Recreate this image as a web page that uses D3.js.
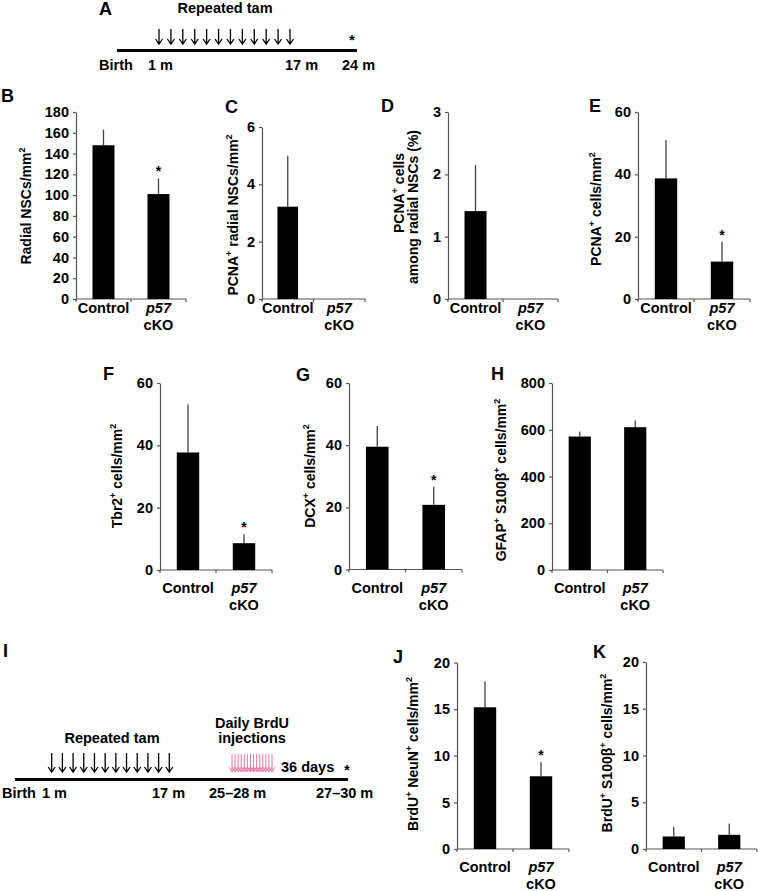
<!DOCTYPE html>
<html>
<head>
<meta charset="utf-8">
<script src="https://cdnjs.cloudflare.com/ajax/libs/d3/7.8.5/d3.min.js"></script>
<style>
  body { margin: 0; background: #fff; }
  svg { display: block; font-family: "Liberation Sans", Arial, sans-serif; font-weight: bold; }
</style>
</head>
<body>
<svg id="fig" width="758" height="891"></svg>
<script>
// categories (second one is drawn as "p57" italic over "cKO")
var groups = ["Control", "p57 cKO"];

// bar heights (mean) and upper error (SEM), Control then p57 cKO
var radialNSCs = [148, 101],   radialNSCsErr = [15, 15];
var pcnaRadial = [3.22, 0],    pcnaRadialErr = [1.78, 0];
var pcnaPercent = [1.41, 0],   pcnaPercentErr = [0.74, 0];
var pcnaCells = [38.7, 12.0],  pcnaCellsErr = [12.3, 6.4];
var tbr2Cells = [37.7, 8.6],   tbr2CellsErr = [15.5, 2.9];
var dcxCells = [39.5, 20.8],   dcxCellsErr = [6.7, 5.8];
var gfapCells = [571, 611],    gfapCellsErr = [21, 29];
var brduNeuN = [15.2, 7.8],    brduNeuNErr = [2.8, 1.5];
var brduS100 = [1.34, 1.52],   brduS100Err = [1.0, 1.2];

// significance asterisks
var starsB = [false, true], starsE = [false, true], starsF = [false, true];
var starsG = [false, true], starsJ = [false, true], none = [false, false];

// tick labels
var ticksB = [0, 20, 40, 60, 80, 100, 120, 140, 160, 180];
var ticksC = [0, 2, 4, 6];
var ticksD = [0, 1, 2, 3];
var ticks60 = [0, 20, 40, 60];
var ticksH = [0, 200, 400, 600, 800];
var ticks20 = [0, 5, 10, 15, 20];

// timeline labels
var timelineA = ["Birth", "1 m", "17 m", "24 m"];
var timelineI = ["Birth", "1 m", "17 m", "25\u201328 m", "27\u201330 m"];
var tamDoses = d3.range(12);
var brduDoses = d3.range(14);

var svg = d3.select("#fig");
var axisColor = "#555";

function sup(t) { return { t: t, sup: true }; }

// write segments (with superscripts) into a text element
function segText(text, segs) {
  segs.forEach(function(s, i) {
    var prevSup = i > 0 && segs[i - 1].sup;
    var ts = text.append("tspan").text(s.t);
    if (s.sup) ts.attr("font-size", 9).attr("dy", -6);
    else if (prevSup) ts.attr("dy", 6);
  });
}

var panels = [
  { letter: "B", lx: 1, ly: 102, x0: 76, x1: 186, yb: 299, yt: 112, max: 180, ticks: ticksB,
    v: radialNSCs, e: radialNSCsErr, s: starsB, catDy: 14,
    title: [[{ t: "Radial NSCs/mm" }, sup("2")]], tx: [31], ty: [206] },
  { letter: "C", lx: 225, ly: 113, x0: 262, x1: 365, yb: 299, yt: 127, max: 6, ticks: ticksC,
    v: pcnaRadial, e: pcnaRadialErr, s: none, catDy: 14,
    title: [[{ t: "PCNA" }, sup("+"), { t: " radial NSCs/mm" }, sup("2")]], tx: [238], ty: [215] },
  { letter: "D", lx: 381, ly: 112, x0: 448, x1: 558, yb: 299, yt: 112, max: 3, ticks: ticksD,
    v: pcnaPercent, e: pcnaPercentErr, s: none, catDy: 14,
    title: [[{ t: "PCNA" }, sup("+"), { t: " cells" }], [{ t: "among radial NSCs (%)" }]],
    tx: [404, 418], ty: [193, 207] },
  { letter: "E", lx: 589, ly: 112, x0: 638, x1: 750, yb: 299, yt: 112, max: 60, ticks: ticks60,
    v: pcnaCells, e: pcnaCellsErr, s: starsE, catDy: 14,
    title: [[{ t: "PCNA" }, sup("+"), { t: " cells/mm" }, sup("2")]], tx: [601], ty: [209] },
  { letter: "F", lx: 103, ly: 380, x0: 160, x1: 272, yb: 570, yt: 383, max: 60, ticks: ticks60,
    v: tbr2Cells, e: tbr2CellsErr, s: starsF, catDy: 23,
    title: [[{ t: "Tbr2" }, sup("+"), { t: " cells/mm" }, sup("2")]], tx: [122], ty: [476] },
  { letter: "G", lx: 296, ly: 381, x0: 349, x1: 462, yb: 569.5, yt: 383, max: 60, ticks: ticks60,
    v: dcxCells, e: dcxCellsErr, s: starsG, catDy: 23,
    title: [[{ t: "DCX" }, sup("+"), { t: " cells/mm" }, sup("2")]], tx: [315], ty: [476] },
  { letter: "H", lx: 491, ly: 380, x0: 552, x1: 663, yb: 570, yt: 383, max: 800, ticks: ticksH,
    v: gfapCells, e: gfapCellsErr, s: none, catDy: 23,
    title: [[{ t: "GFAP" }, sup("+"), { t: " S100\u03b2" }, sup("+"), { t: " cells/mm" }, sup("2")]], tx: [506], ty: [480] },
  { letter: "J", lx: 393, ly: 663, x0: 457, x1: 569, yb: 849, yt: 662.5, max: 20, ticks: ticks20,
    v: brduNeuN, e: brduNeuNErr, s: starsJ, catDy: 23,
    title: [[{ t: "BrdU" }, sup("+"), { t: " NeuN" }, sup("+"), { t: " cells/mm" }, sup("2")]], tx: [418], ty: [754] },
  { letter: "K", lx: 593, ly: 658, x0: 646, x1: 757, yb: 849, yt: 662, max: 20, ticks: ticks20,
    v: brduS100, e: brduS100Err, s: none, catDy: 23,
    title: [[{ t: "BrdU" }, sup("+"), { t: " S100\u03b2" }, sup("+"), { t: " cells/mm" }, sup("2")]], tx: [612], ty: [753] }
];

panels.forEach(function(p) {
  var g = svg.append("g");
  var y = d3.scaleLinear().domain([0, p.max]).range([p.yb, p.yt]);
  var x = d3.scaleBand().domain(groups).range([p.x0, p.x1]).padding(0);
  var bw = x.bandwidth() * 0.4;

  // panel letter
  g.append("text").attr("x", p.lx).attr("y", p.ly).attr("font-size", 18).text(p.letter);

  // y axis
  var ax = g.append("g").attr("transform", "translate(" + p.x0 + ",0)")
    .call(d3.axisLeft(y).tickValues(p.ticks).tickFormat(d3.format("d"))
      .tickSize(3).tickSizeOuter(0).tickPadding(4));
  ax.attr("font-size", 14.5).attr("font-family", null);
  ax.select(".domain").attr("stroke", axisColor).attr("stroke-width", 1.2);
  ax.selectAll(".tick line").attr("stroke", axisColor).attr("stroke-width", 1.2);
  ax.selectAll(".tick text").attr("fill", "#000");

  // x axis line with category dividers
  g.append("line").attr("x1", p.x0).attr("x2", p.x1).attr("y1", p.yb).attr("y2", p.yb)
    .attr("stroke", axisColor).attr("stroke-width", 1.2);
  var divs = groups.map(function(c) { return x(c); }).concat([p.x1]);
  g.selectAll(".xt").data(divs).enter().append("line")
    .attr("x1", function(d) { return d; }).attr("x2", function(d) { return d; })
    .attr("y1", p.yb).attr("y2", p.yb + 3)
    .attr("stroke", axisColor).attr("stroke-width", 1.2);

  var rows = groups.map(function(c, i) { return { c: c, v: p.v[i], e: p.e[i], s: p.s[i] }; });

  // error bars (upper only)
  g.selectAll(".err").data(rows.filter(function(d) { return d.e > 0; })).enter().append("line")
    .attr("x1", function(d) { return x(d.c) + x.bandwidth() / 2; })
    .attr("x2", function(d) { return x(d.c) + x.bandwidth() / 2; })
    .attr("y1", function(d) { return y(d.v); })
    .attr("y2", function(d) { return y(d.v + d.e); })
    .attr("stroke", "#444").attr("stroke-width", 1.3);

  // bars
  g.selectAll(".bar").data(rows).enter().append("rect")
    .attr("x", function(d) { return x(d.c) + (x.bandwidth() - bw) / 2; })
    .attr("width", bw)
    .attr("y", function(d) { return y(d.v); })
    .attr("height", function(d) { return p.yb - y(d.v); })
    .attr("fill", "#000");

  // asterisks
  g.selectAll(".star").data(rows.filter(function(d) { return d.s; })).enter().append("text")
    .attr("x", function(d) { return x(d.c) + x.bandwidth() / 2; })
    .attr("y", function(d) { return y(d.v + d.e) - 2; })
    .attr("text-anchor", "middle").attr("font-size", 14).text("*");

  // category labels
  var cx0 = x(groups[0]) + x.bandwidth() / 2, cx1 = x(groups[1]) + x.bandwidth() / 2;
  g.append("text").attr("x", cx0).attr("y", p.yb + p.catDy).attr("text-anchor", "middle")
    .attr("font-size", 14.5).text(groups[0]);
  var parts = groups[1].split(" ");
  g.append("text").attr("x", cx1).attr("y", p.yb + p.catDy).attr("text-anchor", "middle")
    .attr("font-size", 14.5).attr("font-style", "italic").text(parts[0]);
  g.append("text").attr("x", cx1).attr("y", p.yb + p.catDy + 17).attr("text-anchor", "middle")
    .attr("font-size", 14.5).text(parts[1]);

  // y axis title (rotated)
  p.title.forEach(function(line, i) {
    var t = g.append("text").attr("text-anchor", "middle").attr("font-size", 14)
      .attr("transform", "translate(" + p.tx[i] + "," + p.ty[i] + ") rotate(-90)");
    segText(t, line);
  });
});

// ---- timelines ----
function arrows(sel, xs, top, bot, color, sw, hw) {
  sel.selectAll(null).data(xs).enter().append("path")
    .attr("d", function(d) {
      return "M" + d + "," + top + "V" + bot + "M" + (d - hw) + "," + (bot - 5) + "L" + d + "," + bot + "L" + (d + hw) + "," + (bot - 5);
    })
    .attr("fill", "none").attr("stroke", color).attr("stroke-width", sw);
}

// panel A
var gA = svg.append("g");
gA.append("text").attr("x", 99).attr("y", 15).attr("font-size", 18).text("A");
gA.append("text").attr("x", 225).attr("y", 13).attr("text-anchor", "middle").attr("font-size", 14.5).text("Repeated tam");
var xA = d3.scaleLinear().domain([0, tamDoses.length - 1]).range([159, 290]);
arrows(gA, tamDoses.map(xA), 29, 44, "#000", 1.3, 3.5);
gA.append("line").attr("x1", 117).attr("x2", 357).attr("y1", 50.5).attr("y2", 50.5).attr("stroke", "#000").attr("stroke-width", 3);
gA.append("text").attr("x", 352).attr("y", 45).attr("text-anchor", "middle").attr("font-size", 14).text("*");
var posA = [99, 148, 285, 342];
timelineA.forEach(function(t, i) {
  gA.append("text").attr("x", posA[i]).attr("y", 70).attr("font-size", 14.5).text(t);
});

// panel I
var gI = svg.append("g");
gI.append("text").attr("x", 3).attr("y", 657).attr("font-size", 18).text("I");
gI.append("text").attr("x", 112).attr("y", 743).attr("text-anchor", "middle").attr("font-size", 14.5).text("Repeated tam");
gI.append("text").attr("x", 252).attr("y", 728).attr("text-anchor", "middle").attr("font-size", 14.5).text("Daily BrdU");
gI.append("text").attr("x", 252).attr("y", 743).attr("text-anchor", "middle").attr("font-size", 14.5).text("injections");
var xI = d3.scaleLinear().domain([0, tamDoses.length - 1]).range([51.7, 169.3]);
arrows(gI, tamDoses.map(xI), 753, 772, "#000", 1.3, 3.5);
var xB = d3.scaleLinear().domain([0, brduDoses.length - 1]).range([232, 272]);
arrows(gI, brduDoses.map(xB), 754, 772, "#e8789f", 1, 3);
gI.append("line").attr("x1", 15).attr("x2", 348).attr("y1", 779.5).attr("y2", 779.5).attr("stroke", "#000").attr("stroke-width", 3);
gI.append("text").attr("x", 281).attr("y", 772).attr("font-size", 14.5).text("36 days");
gI.append("text").attr("x", 347).attr("y", 775).attr("text-anchor", "middle").attr("font-size", 14).text("*");
var posI = [2, 42, 152, 209, 316];
timelineI.forEach(function(t, i) {
  gI.append("text").attr("x", posI[i]).attr("y", 798).attr("font-size", 14.5).text(t);
});
</script>
</body>
</html>
